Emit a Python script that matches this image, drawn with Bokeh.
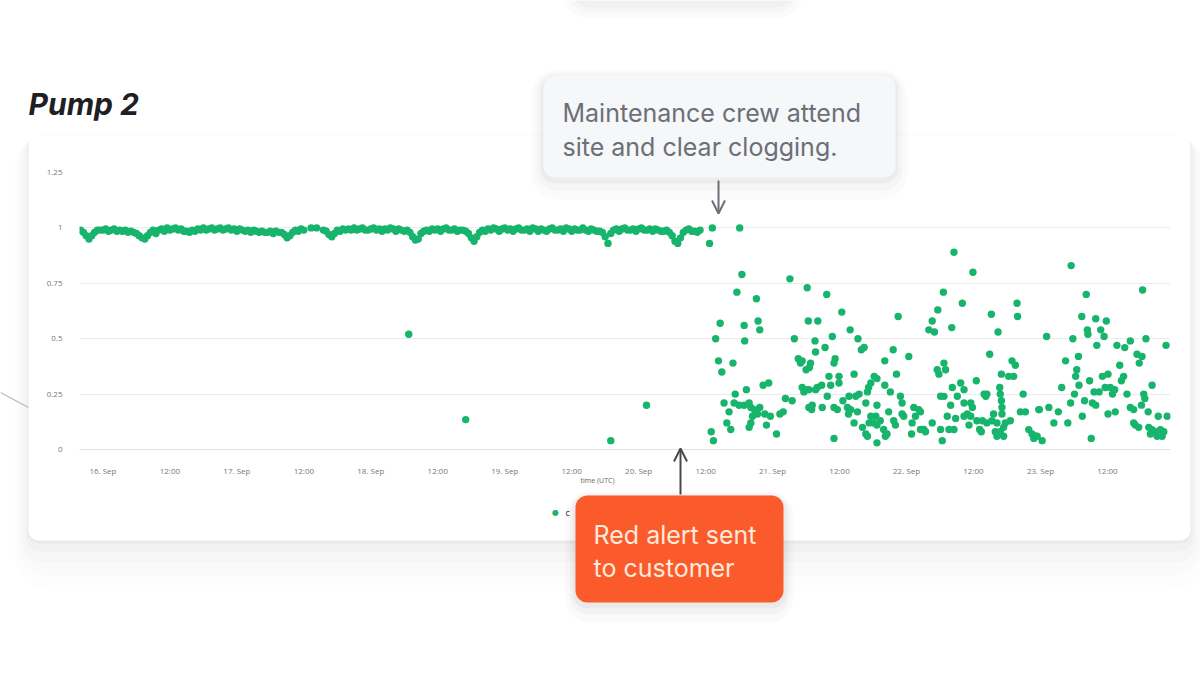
import pandas as pd
from bokeh.plotting import figure
from bokeh.models import (Range1d, FixedTicker, Label, BoxAnnotation, Arrow,
                          OpenHead, ColumnDataSource, GridBox)
from bokeh.embed import file_html
from bokeh.resources import INLINE

# ---------------- data ----------------
BASE = "2022-09-16 00:00"          # 16. Sep, 00:00 UTC
X_START_H = -4.2                   # visible time range, hours from BASE
X_END_H = 191.3

# dense normal-operation band, sampled every 30 minutes
band1_start_h = -4.0
band1_values = [
    0.99, 0.98, 0.965, 0.95, 0.965, 0.98, 0.99, 0.99,
    0.99, 0.995, 0.985, 0.99, 0.995, 0.985, 0.99, 0.985, 0.99, 0.98,
    0.985, 0.98, 0.975, 0.965, 0.955, 0.95, 0.965, 0.98, 0.99, 0.975,
    0.99, 0.995, 0.985, 1.0, 0.99, 0.995, 1.0, 0.99, 0.995, 0.985,
    0.985, 0.98, 0.99, 0.985, 0.995, 0.99, 1.0, 0.99, 0.995, 1.0,
    0.99, 0.995, 1.0, 0.99, 0.995, 1.0, 0.99, 0.995, 0.985, 0.995,
    0.99, 0.985, 0.99, 0.98, 0.99, 0.985, 0.98, 0.985, 0.98, 0.98,
    0.985, 0.975, 0.985, 0.98, 0.98, 0.97, 0.955, 0.965, 0.98, 0.99,
    0.985, 0.995, 0.99,
]
band2_start_h = 39.5
band2_values = [
    0.99, 0.985, 0.97, 0.96, 0.975, 0.99, 0.985, 0.995, 0.99, 0.995,
    0.99, 1.0, 0.99, 0.995, 1.0, 0.99, 0.99, 0.995, 1.0, 0.99,
    0.995, 0.985, 0.995, 0.99, 1.0, 0.995, 0.985, 0.995, 0.99, 0.985,
    0.99, 0.98, 0.96, 0.945, 0.95, 0.975, 0.985, 0.99, 0.985, 0.995,
    0.99, 0.995, 0.985, 0.995, 1.0, 0.99, 0.99, 0.995, 0.985, 0.99,
    0.99, 0.985, 0.975, 0.955, 0.94, 0.96, 0.98, 0.99, 0.985, 0.995,
    0.99, 1.0, 0.995, 0.985, 0.995, 1.0, 0.99, 0.995, 0.985, 0.995,
    1.0, 0.99, 0.99, 0.995, 0.985, 1.0, 0.995, 0.985, 0.995, 0.99,
    0.985, 0.995, 1.0, 0.99, 0.99, 0.995, 0.985, 1.0, 0.995, 0.985,
    0.995, 0.99, 0.99, 1.0, 0.99, 0.985, 0.995, 0.99, 0.985, 0.985,
    0.98, 0.96, 0.93, 0.975, 0.99, 0.995, 0.985, 0.995, 1.0, 0.99,
    0.99, 0.995, 0.985, 0.995, 1.0, 0.99, 0.99, 0.995, 0.985, 0.995,
    0.99, 0.985, 0.985, 0.99, 0.98, 0.965, 0.94, 0.93, 0.955, 0.98,
    0.99, 0.995, 0.985, 0.985, 0.98, 0.99,
]

# individual readings (hours from BASE, value)
outliers = [(37.3, 1.0), (38.3, 1.0), (54.8, 0.52), (65.0, 0.135),
            (91.0, 0.04), (97.4, 0.20), (108.7, 0.93), (109.2, 1.0),
            (114.1, 1.0)]

after_alert_20sep = [
    (114.5, 0.79), (123.1, 0.77), (126.2, 0.73), (113.6, 0.71), (117.1, 0.68),
    (110.6, 0.57), (114.9, 0.56), (117.4, 0.58), (117.7, 0.54),
    (109.8, 0.50), (115.0, 0.49), (123.9, 0.50),
    (110.3, 0.40), (112.9, 0.39), (110.9, 0.35),
    (124.6, 0.41), (125.3, 0.40), (125.0, 0.39), (126.0, 0.36),
    (115.3, 0.27), (118.3, 0.29), (119.3, 0.30), (113.3, 0.25), (111.3, 0.21),
    (113.1, 0.21), (114.0, 0.20), (114.9, 0.20), (115.8, 0.21), (116.1, 0.19),
    (112.2, 0.17), (116.7, 0.18), (117.3, 0.16), (117.7, 0.19),
    (116.4, 0.15), (116.1, 0.12), (115.8, 0.10),
    (118.6, 0.16), (119.6, 0.15), (121.3, 0.16), (121.9, 0.17),
    (122.3, 0.23), (123.5, 0.22),
    (125.3, 0.28), (126.2, 0.27), (125.6, 0.26),
    (111.8, 0.12), (112.5, 0.09), (118.9, 0.11), (120.7, 0.07),
    (109.0, 0.08), (109.4, 0.04), (126.5, 0.19),
]

readings_21sep = [
    (129.7, 0.70), (132.4, 0.62), (142.5, 0.60), (126.4, 0.58), (128.1, 0.58),
    (133.9, 0.54), (130.7, 0.51), (127.6, 0.49),
    (135.3, 0.50), (136.4, 0.46), (135.9, 0.45),
    (129.4, 0.46), (127.7, 0.44), (141.6, 0.45), (140.1, 0.40), (144.4, 0.42),
    (131.2, 0.41), (131.0, 0.39), (126.8, 0.39), (126.6, 0.37),
    (134.6, 0.34), (142.2, 0.34),
    (130.1, 0.33), (131.9, 0.33), (131.9, 0.30),
    (138.2, 0.33), (138.7, 0.32), (137.6, 0.30), (137.2, 0.28), (137.0, 0.26),
    (128.8, 0.29), (128.0, 0.28), (126.5, 0.27), (127.7, 0.27), (130.4, 0.29),
    (140.1, 0.29), (141.1, 0.26),
    (135.5, 0.25), (134.9, 0.24), (133.7, 0.24), (129.8, 0.24),
    (136.7, 0.21), (132.6, 0.22), (142.9, 0.24), (143.2, 0.21),
    (127.1, 0.20), (127.0, 0.18),
    (128.9, 0.19), (131.0, 0.19), (131.6, 0.18),
    (133.4, 0.19), (134.0, 0.18), (133.6, 0.16), (135.2, 0.17),
    (138.7, 0.20), (140.8, 0.17), (145.3, 0.19), (146.2, 0.18),
    (143.2, 0.16), (143.5, 0.15),
    (137.6, 0.15), (138.5, 0.15), (139.3, 0.13), (138.1, 0.12), (138.7, 0.11),
    (137.3, 0.12),
    (134.6, 0.12), (136.1, 0.10), (136.7, 0.07),
    (139.9, 0.09), (140.5, 0.07), (140.2, 0.06),
    (141.7, 0.13), (142.0, 0.11), (145.0, 0.12), (145.6, 0.15),
    (144.9, 0.07), (146.5, 0.09), (138.7, 0.03), (131.0, 0.05), (137.0, 0.06),
]

readings_22sep = [
    (152.5, 0.89), (155.9, 0.80), (150.6, 0.71), (154.0, 0.66), (163.8, 0.66),
    (163.9, 0.60),
    (149.6, 0.63), (159.2, 0.61), (148.6, 0.58), (148.0, 0.54), (149.0, 0.53),
    (152.1, 0.55), (160.4, 0.53),
    (158.9, 0.43), (162.9, 0.40), (163.5, 0.38),
    (150.7, 0.39), (151.0, 0.36), (149.5, 0.36), (149.8, 0.34),
    (161.0, 0.34), (162.3, 0.33), (163.2, 0.33), (156.5, 0.31),
    (153.7, 0.30), (152.2, 0.28), (154.3, 0.27),
    (160.7, 0.28), (160.8, 0.25), (161.0, 0.22), (161.1, 0.19), (161.1, 0.16),
    (157.9, 0.25), (158.4, 0.25), (158.2, 0.24),
    (150.7, 0.24), (150.1, 0.24),
    (153.1, 0.24), (154.3, 0.21), (155.5, 0.21), (155.8, 0.19),
    (164.9, 0.25), (151.9, 0.20), (164.4, 0.17), (165.3, 0.17), (167.7, 0.18),
    (146.5, 0.17),
    (151.3, 0.15), (152.8, 0.14), (154.3, 0.15), (154.9, 0.16), (155.5, 0.15),
    (156.6, 0.13), (157.6, 0.13), (158.4, 0.12), (159.3, 0.13), (159.6, 0.16),
    (160.2, 0.12), (161.7, 0.12), (162.6, 0.13), (148.6, 0.12),
    (147.1, 0.09), (147.4, 0.08), (150.1, 0.09), (151.6, 0.09), (152.5, 0.09),
    (155.2, 0.11), (157.1, 0.09), (157.4, 0.08),
    (159.9, 0.08), (160.8, 0.08), (161.4, 0.10), (160.2, 0.06), (161.4, 0.06),
    (150.4, 0.04),
    (165.9, 0.09), (166.5, 0.07), (167.1, 0.06), (166.8, 0.05),
]

readings_23sep = [
    (173.5, 0.83), (186.3, 0.72), (176.2, 0.70),
    (175.4, 0.60), (177.9, 0.59), (179.8, 0.58),
    (176.4, 0.54), (176.5, 0.52), (178.8, 0.54), (179.4, 0.51),
    (169.1, 0.51), (173.8, 0.50), (178.1, 0.47),
    (181.7, 0.47), (183.1, 0.46), (184.1, 0.49), (186.9, 0.50), (190.5, 0.47),
    (185.3, 0.43), (186.2, 0.42), (185.7, 0.39),
    (174.8, 0.42), (172.5, 0.40), (182.2, 0.38), (174.5, 0.36),
    (174.3, 0.33), (174.9, 0.29), (179.1, 0.33), (180.1, 0.34), (176.8, 0.31),
    (182.9, 0.33), (182.5, 0.31),
    (179.6, 0.28), (180.5, 0.28), (181.3, 0.27), (180.9, 0.25),
    (171.8, 0.28), (177.6, 0.26), (178.5, 0.26), (174.1, 0.25), (188.0, 0.29),
    (183.5, 0.25),
    (186.5, 0.25), (186.7, 0.23),
    (175.9, 0.22), (177.3, 0.21), (177.9, 0.20), (173.4, 0.21),
    (167.8, 0.18), (169.5, 0.19), (171.2, 0.17),
    (184.1, 0.19), (184.7, 0.18), (186.1, 0.20),
    (175.5, 0.15), (180.1, 0.16), (181.4, 0.17),
    (187.3, 0.17), (189.1, 0.15), (190.7, 0.15),
    (170.4, 0.12), (172.9, 0.12),
    (184.7, 0.12), (185.0, 0.11), (185.6, 0.10),
    (187.4, 0.10), (188.0, 0.09), (188.6, 0.08), (189.5, 0.09), (190.1, 0.08),
    (187.7, 0.07), (188.9, 0.06), (189.8, 0.06),
    (167.4, 0.06), (168.3, 0.04), (177.1, 0.05),
]

y_ticks = [0, 0.25, 0.5, 0.75, 1, 1.25]
y_tick_labels = ["0", "0.25", "0.5", "0.75", "1", "1.25"]
x_tick_hours = [0, 12, 24, 36, 48, 60, 72, 84, 96, 108, 120, 132, 144, 156, 168, 180]
x_tick_labels = ["16. Sep", "12:00", "17. Sep", "12:00", "18. Sep", "12:00",
                 "19. Sep", "12:00", "20. Sep", "12:00", "21. Sep", "12:00",
                 "22. Sep", "12:00", "23. Sep", "12:00"]

title_text = "Pump 2"
note_top = ["Maintenance crew attend", "site and clear clogging."]
note_alert = ["Red alert sent", "to customer"]
axis_title = "time (UTC)"
legend_text = "c"

# ---------------- build ----------------
W, H = 1200, 675
BASE_MS = pd.Timestamp(BASE).value // 10**6
HOUR = 3600000
GREEN = "#17b46c"


def to_ms(h):
    return BASE_MS + h * HOUR


def pixel_sheet(bg):
    """A full-canvas, axis-less figure whose data units are canvas pixels (y down)."""
    f = figure(width=W, height=H, output_backend="svg", toolbar_location=None,
               x_range=Range1d(0, W), y_range=Range1d(H, 0),
               x_axis_location=None, y_axis_location=None, min_border=0,
               frame_align=False)
    f.grid.visible = False
    f.outline_line_color = None
    f.border_fill_color = bg
    f.background_fill_color = bg
    return f


def add_box(f, l, r, t, b, fill, radius, shadows=()):
    for grow, side, dy, a in shadows:
        f.add_layout(BoxAnnotation(left=l - side, right=r + side, top=t - grow + dy,
                                   bottom=b + grow + dy, fill_color="#000000",
                                   fill_alpha=a, line_color=None,
                                   border_radius=radius + grow))
    if fill is not None:
        f.add_layout(BoxAnnotation(left=l, right=r, top=t, bottom=b, fill_color=fill,
                                   fill_alpha=1, line_color=None, border_radius=radius))


def add_text(f, x, y, text, size, color, font="Inter", style="normal", align="left"):
    f.add_layout(Label(x=x, y=y, text=text, text_font=font, text_font_size=size,
                       text_font_style=style, text_color=color, text_align=align,
                       text_baseline="middle"))


# ---- layer 1: page, card, title ----
back = pixel_sheet("#ffffff")
add_box(back, 575, 790, -40, 4, None, 14,
        shadows=[(14, 14, 0, 0.016), (8, 8, 0, 0.02), (3, 3, 0, 0.025)])
add_box(back, 28, 1190, 135, 540, "#ffffff", 10,
        shadows=[(26, 14, 24, 0.009), (18, 10, 17, 0.012), (11, 6, 11, 0.016),
                 (5, 3, 6, 0.02), (1, 1, 2, 0.028)])
add_text(back, 28, 103, title_text, "30px", "#1f2024", style="bold italic")
back.add_layout(Arrow(end=None, x_start=0, y_start=392, x_end=28, y_end=407,
                      line_color="#b8b8b8", line_width=1.2))

# ---- layer 2: the chart ----
hours, vals = [], []
for i, v in enumerate(band1_values):
    hours.append(band1_start_h + 0.5 * i); vals.append(v)
for i, v in enumerate(band2_values):
    hours.append(band2_start_h + 0.5 * i); vals.append(v)
for group in (outliers, after_alert_20sep, readings_21sep, readings_22sep, readings_23sep):
    for h, v in group:
        hours.append(h); vals.append(v)
src = ColumnDataSource(dict(t=[to_ms(h) for h in hours], v=vals))

p = figure(width=W, height=H, x_axis_type="datetime",
           output_backend="svg", toolbar_location=None,
           x_range=Range1d(to_ms(X_START_H), to_ms(X_END_H)),
           y_range=Range1d(0, 1.25), frame_align=False,
           min_border_left=79, min_border_right=30,
           min_border_top=172, min_border_bottom=226)
p.border_fill_color = None
p.background_fill_color = None
p.outline_line_color = None
p.scatter("t", "v", source=src, size=7.4, color=GREEN, line_color=None)

p.ygrid.grid_line_color = "#ebebeb"
p.xgrid.grid_line_color = None
p.yaxis.ticker = FixedTicker(ticks=y_ticks)
p.yaxis.major_label_overrides = {t: l for t, l in zip(y_ticks, y_tick_labels)}
p.ygrid.ticker = FixedTicker(ticks=y_ticks)
xt = [to_ms(h) for h in x_tick_hours]
p.xaxis.ticker = FixedTicker(ticks=xt)
p.xaxis.major_label_overrides = {t: l for t, l in zip(xt, x_tick_labels)}
for ax in (p.xaxis, p.yaxis):
    ax.major_tick_line_color = None
    ax.minor_tick_line_color = None
    ax.major_label_text_font = "Open Sans"
    ax.major_label_text_font_size = "8px"
    ax.major_label_text_color = "#777777"
p.yaxis.axis_line_color = None
p.xaxis.axis_line_color = "#e3e3e3"
p.yaxis.major_label_standoff = 11
p.xaxis.major_label_standoff = 9

# ---- layer 3: call-outs ----
top = pixel_sheet(None)
add_text(top, 597, 480, axis_title, "7px", "#666666", font="Open Sans", align="center")
add_text(top, 555, 512, "\u25cf", "8px", GREEN, font="DejaVu Sans", align="center")
add_text(top, 565, 512, legend_text, "9px", "#333333", font="Open Sans")

add_box(top, 543, 895, 75, 177, "#f6f7f9", 12,
        shadows=[(14, 12, 8, 0.016), (8, 7, 5, 0.024), (3, 3, 3, 0.035)])
add_text(top, 562, 112, note_top[0], "25px", "#6c6f77")
add_text(top, 562, 146, note_top[1], "25px", "#6c6f77")
top.add_layout(Arrow(end=OpenHead(size=13, line_color="#6c6f77", line_width=2),
                     x_start=718, y_start=180, x_end=718, y_end=213,
                     line_color="#6c6f77", line_width=2))

top.add_layout(Arrow(end=OpenHead(size=13, line_color="#4a4a4a", line_width=2),
                     x_start=680, y_start=494, x_end=680, y_end=448,
                     line_color="#4a4a4a", line_width=2))
add_box(top, 575, 783, 495, 602, "#fb5a2b", 12,
        shadows=[(12, 10, 8, 0.018), (7, 6, 5, 0.026), (3, 3, 3, 0.035)])
add_text(top, 593, 534, note_alert[0], "25px", "#ffeadb")
add_text(top, 593, 567, note_alert[1], "25px", "#ffeadb")

page = GridBox(children=[(back, 0, 0), (p, 0, 0), (top, 0, 0)])

open("out.html", "w").write(file_html(page, INLINE))
